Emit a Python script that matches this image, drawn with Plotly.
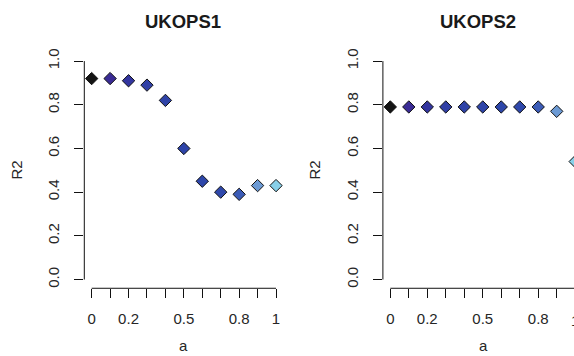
import plotly.graph_objects as go

a = [0.0, 0.1, 0.2, 0.3, 0.4, 0.5, 0.6, 0.7, 0.8, 0.9, 1.0]
r2_ukops1 = [0.92, 0.92, 0.91, 0.89, 0.82, 0.60, 0.45, 0.40, 0.39, 0.43, 0.43]
r2_ukops2 = [0.79, 0.79, 0.79, 0.79, 0.79, 0.79, 0.79, 0.79, 0.79, 0.77, 0.54]
point_colors = ['#141414', '#3a2b95', '#33359f', '#3140a6', '#2f43a7', '#2e44a8',
                '#2d46a9', '#2f48ab', '#3c5cb7', '#6c9ad4', '#88d0e9']
x_tick_text = ['0', '', '0.2', '', '', '0.5', '', '', '0.8', '', '1']
y_ticks = [0.0, 0.2, 0.4, 0.6, 0.8, 1.0]
y_tick_text = ['0.0', '0.2', '0.4', '0.6', '0.8', '1.0']
titles = ['UKOPS1', 'UKOPS2']

W, H = 574, 356
FONT = 'Liberation Sans, Arial, sans-serif'
TXT = '#262626'

# pixel geometry of the two plot regions
left_dom = [84.3 / W, 283.4 / W]
ppu2 = 184.9
x2_start = 382.9
right_dom = [x2_start / W, 1.0]
r2_end = -0.04 + (W - x2_start) / ppu2
y_dom = [1 - 287.5 / H, 1 - 48.9 / H]

fig = go.Figure()
for i, (vals, xa, ya) in enumerate([(r2_ukops1, 'x', 'y'), (r2_ukops2, 'x2', 'y2')]):
    fig.add_trace(go.Scatter(
        x=a, y=vals, mode='markers', xaxis=xa, yaxis=ya,
        marker=dict(symbol='diamond', size=9.5, color=point_colors,
                    line=dict(color='#111111', width=1)),
        showlegend=False, hoverinfo='skip'))

xcommon = dict(tickmode='array', tickvals=a, ticktext=x_tick_text, ticks='outside',
               ticklen=9, tickwidth=1, tickcolor='#111111', showgrid=False,
               zeroline=False, showline=False,
               tickfont=dict(family=FONT, size=15, color=TXT), ticklabelstandoff=8)
ycommon = dict(tickmode='array', tickvals=y_ticks, ticktext=y_tick_text, ticks='outside',
               ticklen=9, tickwidth=1, tickcolor='#111111', showgrid=False,
               zeroline=False, showline=False, range=[-0.04, 1.04], domain=y_dom,
               tickangle=-90,
               tickfont=dict(family=FONT, size=15, color=TXT), ticklabelstandoff=9)

fig.update_layout(
    width=W, height=H, margin=dict(l=0, r=0, t=0, b=0),
    paper_bgcolor='white', plot_bgcolor='white',
    xaxis=dict(domain=left_dom, range=[-0.04, 1.04], anchor='y', **xcommon),
    yaxis=dict(anchor='x', **ycommon),
    xaxis2=dict(domain=right_dom, range=[-0.04, r2_end], anchor='y2', **xcommon),
    yaxis2=dict(anchor='x2', **ycommon),
)

shapes = []
for xa, ya in [('x', 'y'), ('x2', 'y2')]:
    shapes.append(dict(type='line', xref=xa, yref=ya + ' domain', x0=a[0], x1=a[-1],
                       y0=0, y1=0, line=dict(color='#111111', width=1)))
    shapes.append(dict(type='line', xref=xa + ' domain', yref=ya, x0=0, x1=0,
                       y0=y_ticks[0], y1=y_ticks[-1], line=dict(color='#111111', width=1)))
fig.update_layout(shapes=shapes)

ann = []
centers = [182.5, 478.3]
ylab_x = [17, 315]
alab_x = [183.3, 483.3]
common_ann = dict(xref='paper', yref='paper', showarrow=False,
                  xanchor='center', yanchor='middle')
for i in range(2):
    ann.append(dict(text='<b>' + titles[i] + '</b>', x=centers[i] / W, y=1 - 17.5 / H,
                    font=dict(family=FONT, size=18.5, color='#1a1a1a'), **common_ann))
    ann.append(dict(text='a', x=alab_x[i] / W, y=1 - 345 / H,
                    font=dict(family=FONT, size=15, color=TXT), **common_ann))
    ann.append(dict(text='R2', x=ylab_x[i] / W, y=1 - 168.5 / H, textangle=-90,
                    font=dict(family=FONT, size=15, color=TXT), **common_ann))
# the tick label '1' of the right panel falls just outside the plot region
x1_paper = right_dom[0] + (a[-1] + 0.04) / (r2_end + 0.04) * (right_dom[1] - right_dom[0])
ann.append(dict(text='1', x=x1_paper, y=1 - 320 / H,
                font=dict(family=FONT, size=15, color=TXT), **common_ann))
fig.update_layout(annotations=ann)

fig.write_html('out.html')
